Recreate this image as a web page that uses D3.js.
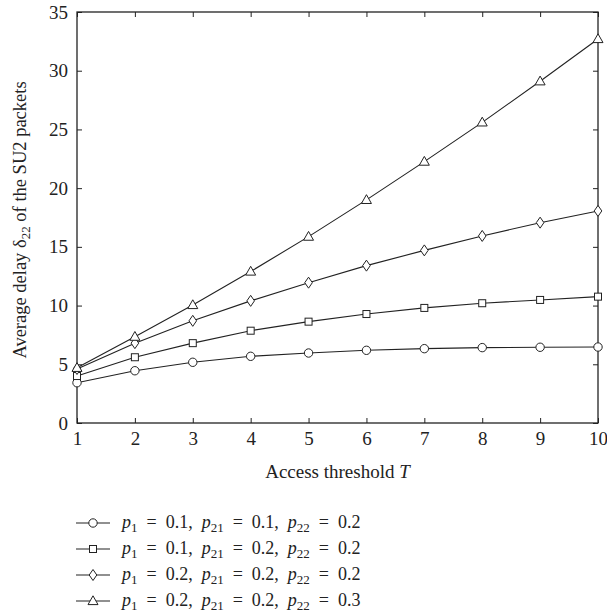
<!DOCTYPE html>
<html>
<head>
<meta charset="utf-8">
<script src="https://cdn.jsdelivr.net/npm/d3@7"></script>
<style>
  body { margin: 0; background: white; }
  text { font-family: "Liberation Serif", "DejaVu Serif", serif; fill: #222; }
</style>
</head>
<body>
<div id="chart"></div>
<script>
// data
let thresholds = [1, 2, 3, 4, 5, 6, 7, 8, 9, 10];
let seriesCircle = [3.43, 4.45, 5.17, 5.68, 5.96, 6.19, 6.33, 6.42, 6.45, 6.47];
let seriesSquare = [4.0, 5.6, 6.8, 7.86, 8.63, 9.28, 9.8, 10.2, 10.48, 10.76];
let seriesDiamond = [4.6, 6.8, 8.7, 10.4, 11.95, 13.4, 14.7, 15.93, 17.06, 18.06];
let seriesTriangle = [4.7, 7.35, 10.05, 12.9, 15.87, 19.0, 22.26, 25.6, 29.1, 32.7];
let yTicks = [0, 5, 10, 15, 20, 25, 30, 35];
// legend parameters: p1, p21, p22
let legendParams = [
  ['0.1', '0.1', '0.2'],
  ['0.1', '0.2', '0.2'],
  ['0.2', '0.2', '0.2'],
  ['0.2', '0.2', '0.3']
];
let markerNames = ['circle', 'square', 'diamond', 'triangle'];

let width = 607, height = 614;
let margin = { top: 12, left: 77, right: 9, bottom: 191 };
let fontSize = '18px', tickSize = '19px', subSize = '13px';

let svg = d3.select('#chart')
  .append('svg')
  .attr('width', width)
  .attr('height', height);

let xScale = d3.scaleLinear()
  .domain([1, 10])
  .range([margin.left, width - margin.right]);

let yScale = d3.scaleLinear()
  .domain([0, 35])
  .range([height - margin.bottom, margin.top]);

// drawing the box with inward ticks on all four sides
let tickLen = 5;
let axisStyle = g => {
  g.attr('font-size', null).attr('font-family', null);
  g.select('.domain').remove();
  g.selectAll('line').attr('stroke', '#222');
  g.selectAll('text').style('font-size', tickSize).attr('fill', '#222');
};

svg.append('g')
  .attr('transform', `translate(0, ${yScale(0)})`)
  .call(d3.axisBottom(xScale).tickValues(thresholds).tickFormat(d3.format('d'))
    .tickSizeInner(-tickLen).tickSizeOuter(0).tickPadding(9))
  .call(axisStyle);

svg.append('g')
  .attr('transform', `translate(0, ${yScale(35)})`)
  .call(d3.axisTop(xScale).tickValues(thresholds).tickFormat('')
    .tickSizeInner(-tickLen).tickSizeOuter(0))
  .call(axisStyle);

svg.append('g')
  .attr('transform', `translate(${xScale(1)}, 0)`)
  .call(d3.axisLeft(yScale).tickValues(yTicks)
    .tickSizeInner(-tickLen).tickSizeOuter(0).tickPadding(9))
  .call(axisStyle);

svg.append('g')
  .attr('transform', `translate(${xScale(10)}, 0)`)
  .call(d3.axisRight(yScale).tickValues(yTicks).tickFormat('')
    .tickSizeInner(-tickLen).tickSizeOuter(0))
  .call(axisStyle);

svg.append('rect')
  .attr('x', xScale(1))
  .attr('y', yScale(35))
  .attr('width', xScale(10) - xScale(1))
  .attr('height', yScale(0) - yScale(35))
  .attr('fill', 'none')
  .attr('stroke', '#222')
  .attr('stroke-width', 1.3);

// marker shapes
let drawMarker = function(g, kind) {
  if (kind == 'circle') {
    g.append('circle').attr('r', 4.2);
  } else if (kind == 'square') {
    g.append('rect').attr('x', -3.5).attr('y', -3.5).attr('width', 7).attr('height', 7);
  } else if (kind == 'diamond') {
    g.append('path').attr('d', 'M0,-5.5L3.8,0L0,5.5L-3.8,0Z');
  } else {
    g.append('path').attr('d', 'M0,-5.2L5,3.6L-5,3.6Z');
  }
  g.selectAll('*').attr('fill', 'white').attr('stroke', '#222').attr('stroke-width', 1);
};

let allSeries = [seriesCircle, seriesSquare, seriesDiamond, seriesTriangle];
let line = d3.line()
  .x(d => xScale(d.t))
  .y(d => yScale(d.v));

allSeries.forEach((values, i) => {
  let pts = thresholds.map((t, j) => ({ t: t, v: values[j] }));
  svg.append('path')
    .datum(pts)
    .attr('d', line)
    .attr('fill', 'none')
    .attr('stroke', '#222')
    .attr('stroke-width', 1.1);
  svg.append('g')
    .selectAll('g')
    .data(pts)
    .join('g')
      .attr('transform', d => `translate(${xScale(d.t)}, ${yScale(d.v)})`)
      .each(function() { drawMarker(d3.select(this), markerNames[i]); });
});

// x axis label
let xLabel = svg.append('text')
  .attr('x', (xScale(1) + xScale(10)) / 2)
  .attr('y', 478)
  .attr('text-anchor', 'middle')
  .style('font-size', '19px');
xLabel.append('tspan').text('Access threshold ');
xLabel.append('tspan').style('font-style', 'italic').text('T');

// y axis label
let yLabel = svg.append('text')
  .attr('transform', `translate(26, 220) rotate(-90)`)
  .attr('text-anchor', 'middle')
  .style('font-size', '18.5px');
yLabel.append('tspan').text('Average delay \u03B4');
yLabel.append('tspan').attr('dy', 4).style('font-size', subSize).text('22');
yLabel.append('tspan').attr('dy', -4).text(' of the SU2 packets');

// legend
let legendTop = 523, legendStep = 26;
legendParams.forEach((p, i) => {
  let y = legendTop + i * legendStep;
  let g = svg.append('g');
  g.append('line')
    .attr('x1', 76).attr('x2', 110)
    .attr('y1', y).attr('y2', y)
    .attr('stroke', '#222').attr('stroke-width', 1.1);
  let m = g.append('g').attr('transform', `translate(93, ${y})`);
  drawMarker(m, markerNames[i]);
  let t = g.append('text')
    .attr('x', 122)
    .attr('y', y + 5)
    .style('font-size', fontSize);
  let subs = ['1', '21', '22'];
  subs.forEach((s, k) => {
    if (k > 0) t.append('tspan').text(',\u2002');
    t.append('tspan').style('font-style', 'italic').text('p');
    t.append('tspan').attr('dy', 4).style('font-size', subSize).text(s);
    t.append('tspan').attr('dy', -4).text('\u2002=\u2002' + p[k]);
  });
});
</script>
</body>
</html>
